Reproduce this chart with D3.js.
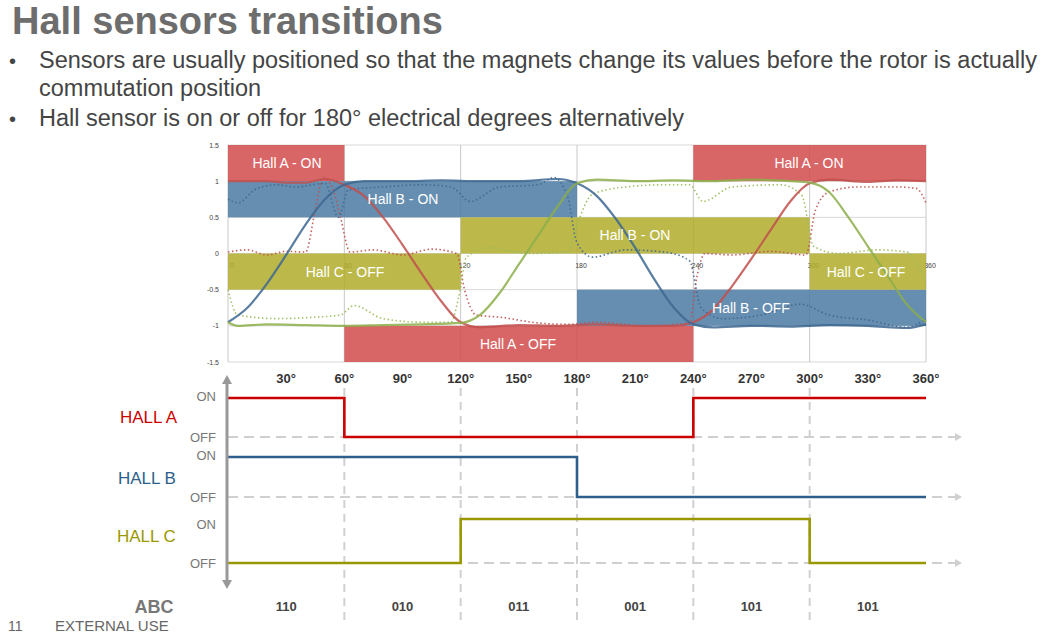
<!DOCTYPE html>
<html><head><meta charset="utf-8">
<script src="https://cdn.jsdelivr.net/npm/d3@7"></script>
<style>body{margin:0;background:#fff;font-family:Arial,"Liberation Sans",sans-serif;overflow:hidden;}</style>
</head><body>
<svg id="c" width="1053" height="637"></svg>
<script>
// degrees along x
var degTicks = [30, 60, 90, 120, 150, 180, 210, 240, 270, 300, 330, 360];
var innerTicks = [0, 60, 120, 180, 240, 300, 360];
var yTicks = [1.5, 1, 0.5, 0, -0.5, -1, -1.5];

// bands: [start, end, y0, y1, colour, label]
var bands = [
  [0, 60, 1, 1.5, 'red', 'Hall A - ON'],
  [240, 360, 1, 1.5, 'red', 'Hall A - ON'],
  [60, 240, -1, -1.5, 'red', 'Hall A - OFF'],
  [0, 180, 0.5, 1, 'blue', 'Hall B - ON'],
  [180, 360, -0.5, -1, 'blue', 'Hall B - OFF'],
  [0, 120, 0, -0.5, 'olive', 'Hall C - OFF'],
  [120, 300, 0, 0.5, 'olive', 'Hall B - ON'],
  [300, 360, 0, -0.5, 'olive', 'Hall C - OFF']
];
var labelX = {'0,60':287, '240,360':809, '60,240':518, '0,180':403, '180,360':751, '0,120':345, '120,300':635, '300,360':866};

// solid back-emf curves (deg, value)
var redSolid = [[0,1],[10,1],[20,1],[30,0.98],[40,0.98],[50,1.03],[60,0.95],[70,0.8],[80,0.5],[90,0.12],[100,-0.28],[110,-0.66],[120,-0.95],[130,-1.02],[150,-0.99],[170,-1],[190,-0.98],[210,-1],[230,-1],[240,-0.95],[250,-0.78],[260,-0.45],[270,-0.07],[280,0.33],[290,0.72],[300,0.97],[310,1.02],[330,0.99],[345,1.01],[360,1]];
var blueSolid = [[0,-0.95],[10,-0.75],[20,-0.42],[30,-0.02],[40,0.4],[50,0.75],[60,0.95],[70,1],[90,1],[110,1.01],[130,1],[150,1],[170,1.03],[180,0.97],[190,0.8],[200,0.48],[210,0.08],[220,-0.36],[230,-0.75],[240,-0.98],[250,-1.02],[270,-1],[290,-1.01],[310,-0.99],[330,-1],[350,-1.03],[360,-0.98]];
var greenSolid = [[0,-0.95],[5,-1],[20,-0.98],[40,-0.99],[60,-1],[80,-0.99],[100,-0.98],[120,-0.96],[130,-0.85],[140,-0.55],[150,-0.15],[160,0.25],[170,0.65],[180,0.97],[190,1.02],[210,1],[230,1.01],[250,1],[270,1.02],[290,1],[300,0.98],[310,0.85],[320,0.5],[330,0.1],[340,-0.3],[350,-0.7],[360,-0.95]];
// dotted curves
var redDot = [[0,0.02],[10,0.05],[20,-0.02],[30,0.03],[40,0.02],[45,0.6],[49,1.05],[54,0.9],[58,0.5],[63,0.02],[75,0.05],[90,-0.02],[105,0.06],[118,0],[122,-0.5],[128,-0.85],[140,-0.88],[160,-0.96],[175,-0.98],[190,-0.95],[215,-1],[238,-0.96],[242,-0.3],[246,0],[260,-0.02],[280,0.03],[298,-0.02],[303,0.6],[310,0.85],[325,0.92],[345,0.92],[355,0.9],[360,0.7]];
var blueDot = [[0,0.75],[5,0.7],[15,0.9],[25,0.95],[35,0.92],[50,0.97],[57,0.5],[62,0.88],[80,0.92],[100,0.95],[115,0.92],[125,0.72],[140,0.92],[160,0.95],[168,1.05],[175,0.8],[180,0.15],[188,-0.05],[205,0.05],[225,0.02],[238,-0.1],[244,-0.75],[255,-0.9],[275,-0.85],[295,-0.7],[310,-0.85],[330,-0.92],[350,-1.02],[360,-0.9]];
var greenDot = [[0,-0.5],[5,-0.85],[25,-0.9],[45,-0.88],[58,-0.85],[65,-0.72],[80,-0.9],[100,-0.95],[115,-0.95],[119,-0.6],[123,-0.05],[135,0.08],[155,0],[175,0.02],[180,0.4],[188,0.82],[205,0.92],[225,0.95],[238,0.95],[245,0.72],[260,0.92],[285,0.95],[296,0.8],[302,0.1],[315,0],[335,0.05],[350,0.02],[360,-0.4]];

// sensor states per 60° sector
var sectors = [0, 60, 120, 180, 240, 300];
var hallA = [1, 0, 0, 0, 1, 1];
var hallB = [1, 1, 1, 0, 0, 0];
var hallC = [0, 0, 1, 1, 1, 0];
var codes = ['110', '010', '011', '001', '101', '101'];

var svg = d3.select('#c');
var col = {red:'#d24b4b', blue:'#4b7aa3', olive:'#b0ad2a'};

// slide text
svg.append('text').attr('x', 12).attr('y', 34).attr('font-size', 38).attr('font-weight', 'bold').attr('fill', '#6d6d6d').text('Hall sensors transitions');
var bl = [[68, 'Sensors are usually positioned so that the magnets change its values before the rotor is actually'], [96, 'commutation position'], [126, 'Hall sensor is on or off for 180° electrical degrees alternatively']];
bl.forEach(function(b, i) {
  if (i != 1) svg.append('text').attr('x', 9).attr('y', b[0]).attr('font-size', 20).attr('fill', '#444').text('•');
  svg.append('text').attr('x', 39).attr('y', b[0]).attr('font-size', 23.5).attr('fill', '#444').text(b[1]);
});
svg.append('text').attr('x', 8).attr('y', 631).attr('font-size', 14).attr('fill', '#666').text('11');
svg.append('text').attr('x', 55).attr('y', 631).attr('font-size', 15).attr('fill', '#666').text('EXTERNAL USE');

// top chart
var x = d3.scaleLinear().domain([0, 360]).range([228, 926]);
var y = d3.scaleLinear().domain([-1.5, 1.5]).range([362, 145]);
var g = svg.append('g');
g.selectAll('.hg').data(yTicks).enter().append('line')
  .attr('x1', x(0)).attr('x2', x(360)).attr('y1', d => y(d)).attr('y2', d => y(d))
  .attr('stroke', '#d8d8d8');
g.selectAll('.vg').data(innerTicks).enter().append('line')
  .attr('x1', d => x(d)).attr('x2', d => x(d)).attr('y1', y(1.5)).attr('y2', y(-1.5))
  .attr('stroke', '#c8c8c8');
g.selectAll('.yl').data(yTicks).enter().append('text')
  .attr('x', 219).attr('y', d => y(d) + 2.5).attr('text-anchor', 'end').attr('font-size', 7).attr('fill', '#444')
  .text(d => d);
g.selectAll('.il').data(innerTicks).enter().append('text')
  .attr('x', d => x(d) + 4).attr('y', y(0) + 14).attr('text-anchor', 'middle').attr('font-size', 7).attr('fill', '#444')
  .text(d => d);

g.selectAll('.band').data(bands).enter().append('rect')
  .attr('x', d => x(d[0])).attr('width', d => x(d[1]) - x(d[0]))
  .attr('y', d => y(Math.max(d[2], d[3]))).attr('height', d => Math.abs(y(d[2]) - y(d[3])))
  .attr('fill', d => col[d[4]]).attr('opacity', 0.85);

var line = d3.line().x(d => x(d[0])).y(d => y(d[1])).curve(d3.curveMonotoneX);
[[redDot, '#c0504d'], [blueDot, '#3d6790'], [greenDot, '#9bbb59']].forEach(function(s) {
  g.append('path').attr('d', line(s[0])).attr('fill', 'none').attr('stroke', s[1])
    .attr('stroke-width', 1.6).attr('stroke-dasharray', '1.5,2.5').attr('opacity', 0.9);
});
[[redSolid, '#c0504d'], [blueSolid, '#3d6790'], [greenSolid, '#8cae4a']].forEach(function(s) {
  g.append('path').attr('d', line(s[0])).attr('fill', 'none').attr('stroke', s[1])
    .attr('stroke-width', 2.2).attr('opacity', 0.85);
});
g.selectAll('.bt').data(bands).enter().append('text')
  .attr('x', d => labelX[d[0] + ',' + d[1]])
  .attr('y', d => (y(d[2]) + y(d[3])) / 2 + 5).attr('text-anchor', 'middle')
  .attr('font-size', 14).attr('fill', '#fff').text(d => d[5]);

// degree labels
svg.selectAll('.dl').data(degTicks).enter().append('text')
  .attr('x', d => x(d)).attr('y', 383).attr('text-anchor', 'middle').attr('font-size', 13).attr('font-weight', 'bold').attr('fill', '#333')
  .text(d => d + '°');

// bottom timing diagram
var b = svg.append('g');
var rows = [
  {name:'HALL A', data:hallA, on:398, off:437, c:'#cc0000', ly:423, lx:120},
  {name:'HALL B', data:hallB, on:457, off:497, c:'#2e5f8a', ly:484, lx:118},
  {name:'HALL C', data:hallC, on:519, off:563, c:'#9a9800', ly:542, lx:117}
];
// vertical dashed guides
b.selectAll('.vd').data(sectors.slice(1)).enter().append('line')
  .attr('x1', d => x(d)).attr('x2', d => x(d)).attr('y1', 388).attr('y2', 620)
  .attr('stroke', '#d0d0d0').attr('stroke-width', 2).attr('stroke-dasharray', '8,6');
rows.forEach(function(r) {
  b.append('line').attr('x1', x(0)).attr('x2', 955).attr('y1', r.off).attr('y2', r.off)
    .attr('stroke', '#d0d0d0').attr('stroke-width', 2).attr('stroke-dasharray', '10,6');
  b.append('path').attr('d', 'M955,' + (r.off - 4) + 'L962,' + r.off + 'L955,' + (r.off + 4) + 'Z').attr('fill', '#d0d0d0');
  var pts = [];
  r.data.forEach(function(v, i) {
    var yy = v ? r.on : r.off;
    pts.push([x(sectors[i]), yy]);
    pts.push([x(i < 5 ? sectors[i + 1] : 360), yy]);
  });
  b.append('path').attr('d', d3.line()(pts)).attr('fill', 'none').attr('stroke', r.c).attr('stroke-width', 2.6);
  b.append('text').attr('x', r.lx).attr('y', r.ly).attr('font-size', 17).attr('fill', r.c).text(r.name);
  b.append('text').attr('x', 216).attr('y', r.on + (r.name == 'HALL C' ? 10 : 3)).attr('text-anchor', 'end').attr('font-size', 13).attr('fill', '#777').text('ON');
  b.append('text').attr('x', 216).attr('y', r.off + 5).attr('text-anchor', 'end').attr('font-size', 13).attr('fill', '#777').text('OFF');
});
b.append('line').attr('x1', 227).attr('x2', 227).attr('y1', 382).attr('y2', 582).attr('stroke', '#999').attr('stroke-width', 3);
b.append('path').attr('d', 'M222,384L227,375L232,384Z').attr('fill', '#999');
b.append('path').attr('d', 'M222,580L227,589L232,580Z').attr('fill', '#999');

svg.append('text').attr('x', 154).attr('y', 613).attr('text-anchor', 'middle').attr('font-size', 18).attr('font-weight', 'bold').attr('fill', '#777').text('ABC');
svg.selectAll('.code').data(codes).enter().append('text')
  .attr('x', (d, i) => x(sectors[i] + 30)).attr('y', 611).attr('text-anchor', 'middle')
  .attr('font-size', 13).attr('font-weight', 'bold').attr('fill', '#444').text(d => d);
</script>
</body></html>
